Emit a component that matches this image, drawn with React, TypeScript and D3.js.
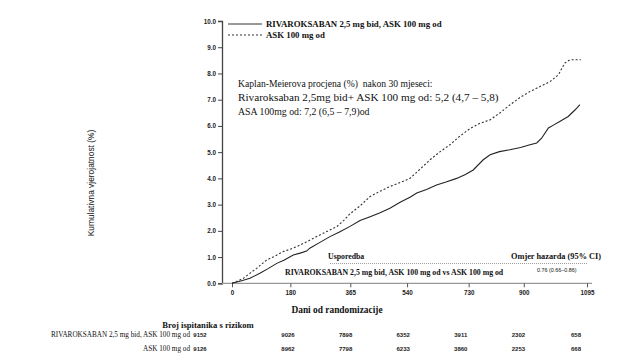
import { useEffect, useRef } from 'react'
import * as d3 from 'd3'

// Kaplan-Meier curves (days, cumulative %)
const rivaDays = [0, 30, 55, 86, 110, 138, 160, 189, 210, 230, 240, 270, 302, 330, 364, 395, 426, 455, 487, 520, 549, 570, 600, 631, 660, 693, 720, 744, 775, 796, 825, 857, 890, 919, 940, 955, 976, 990, 1011, 1037, 1053, 1065, 1073]
const rivaPct = [0, 0.1, 0.19, 0.38, 0.55, 0.76, 0.88, 1.08, 1.15, 1.23, 1.34, 1.55, 1.78, 1.95, 2.17, 2.39, 2.54, 2.68, 2.86, 3.1, 3.28, 3.44, 3.58, 3.75, 3.86, 4.0, 4.15, 4.32, 4.71, 4.9, 5.02, 5.09, 5.18, 5.28, 5.35, 5.53, 5.92, 6.02, 6.17, 6.36, 6.55, 6.7, 6.81]
const askDays = [0, 20, 35, 55, 76, 107, 130, 158, 180, 200, 230, 261, 290, 323, 345, 364, 395, 426, 455, 487, 520, 549, 580, 611, 640, 672, 700, 734, 765, 796, 827, 857, 890, 919, 950, 981, 1007, 1020, 1027, 1042, 1076]
const askPct = [0, 0.1, 0.19, 0.38, 0.57, 0.89, 1.02, 1.21, 1.3, 1.4, 1.58, 1.78, 1.96, 2.16, 2.4, 2.65, 2.95, 3.31, 3.5, 3.69, 3.85, 4.0, 4.35, 4.71, 5.0, 5.28, 5.58, 5.9, 6.1, 6.23, 6.5, 6.8, 7.1, 7.31, 7.5, 7.69, 7.95, 8.25, 8.4, 8.52, 8.52]

const xTicks = [0, 180, 365, 540, 730, 900, 1095]
const yTicks = [0, 1, 2, 3, 4, 5, 6, 7, 8, 9, 10]

const seriesNames = ['RIVAROKSABAN 2,5 mg bid, ASK 100 mg od', 'ASK 100 mg od']
const atRiskRiva = [9152, 9026, 7898, 6352, 3911, 2302, 658]
const atRiskAsk = [9126, 8962, 7798, 6233, 3860, 2253, 668]

const serif = '"Liberation Serif", "Times New Roman", serif'
const sans = '"Liberation Sans", Arial, sans-serif'

export default function App() {
  const svgRef = useRef<SVGSVGElement>(null)

  useEffect(() => {
    const svg = d3.select(svgRef.current)
    svg.selectAll('*').remove()

    const x = d3.scaleLinear([0, 1095], [232, 587])
    const y = d3.scaleLinear([0, 10], [283.3, 21])

    // y axis
    const yAxis = svg.append('g')
      .attr('transform', 'translate(222,0)')
      .call(d3.axisLeft(y).tickValues(yTicks).tickSize(4).tickPadding(2).tickFormat(d3.format('.1f')))
    yAxis.select('.domain').attr('stroke', '#444').attr('stroke-width', 1.3)
    yAxis.selectAll('line').attr('stroke', '#444')
    yAxis.selectAll('text')
      .attr('font-family', sans).attr('font-weight', 'bold').attr('font-size', 6.3).attr('fill', '#222')

    // x axis
    const xAxis = svg.append('g')
      .attr('transform', 'translate(0,283.3)')
      .call(d3.axisBottom(x).tickValues(xTicks).tickSize(4).tickPadding(3).tickFormat(d3.format('d')))
    xAxis.select('.domain').attr('d', 'M222,0H592').attr('stroke', '#999').attr('stroke-width', 1.3)
    xAxis.selectAll('line').attr('stroke', '#555')
    xAxis.selectAll('text')
      .attr('font-family', sans).attr('font-weight', 'bold').attr('font-size', 6.3).attr('fill', '#222')

    const line = d3.line<[number, number]>()
      .x(d => x(d[0]))
      .y(d => y(d[1]))

    svg.append('path')
      .datum(d3.zip(askDays, askPct) as [number, number][])
      .attr('d', line)
      .attr('fill', 'none')
      .attr('stroke', '#333')
      .attr('stroke-width', 1.1)
      .attr('stroke-dasharray', '2,2')

    svg.append('path')
      .datum(d3.zip(rivaDays, rivaPct) as [number, number][])
      .attr('d', line)
      .attr('fill', 'none')
      .attr('stroke', '#222')
      .attr('stroke-width', 1.1)

    // legend
    const legend = svg.append('g')
    legend.append('line').attr('x1', 228).attr('x2', 262).attr('y1', 24).attr('y2', 24)
      .attr('stroke', '#333').attr('stroke-width', 1)
    legend.append('line').attr('x1', 228).attr('x2', 262).attr('y1', 35).attr('y2', 35)
      .attr('stroke', '#333').attr('stroke-dasharray', '2,2')
    legend.selectAll('text')
      .data(seriesNames)
      .join('text')
      .attr('x', 266)
      .attr('y', (_, i) => 27 + i * 11)
      .attr('font-family', serif).attr('font-weight', 'bold').attr('font-size', 8.8).attr('fill', '#111')
      .text(d => d)

    // KM estimate note
    const note = [
      { t: 'Kaplan-Meierova procjena (%)  nakon 30 mjeseci:', s: 9.6 },
      { t: 'Rivaroksaban 2,5mg bid+ ASK 100 mg od: 5,2 (4,7 – 5,8)', s: 11.2 },
      { t: 'ASA 100mg od: 7,2 (6,5 – 7,9)od', s: 9.8 }
    ]
    svg.append('g').selectAll('text')
      .data(note)
      .join('text')
      .attr('x', 238)
      .attr('y', (_, i) => 87 + i * 14)
      .attr('font-family', serif).attr('font-size', d => d.s).attr('fill', '#111')
      .style('white-space', 'pre')
      .text(d => d.t)

    // hazard ratio inset
    const hr = svg.append('g').attr('font-family', serif).attr('fill', '#111')
    hr.append('text').attr('x', 328).attr('y', 259).attr('font-weight', 'bold').attr('font-size', 7.8)
      .text('Usporedba')
    hr.append('text').attr('x', 601).attr('y', 259).attr('text-anchor', 'end').attr('font-weight', 'bold').attr('font-size', 8.3)
      .text('Omjer hazarda (95% CI)')
    hr.append('line').attr('x1', 330).attr('x2', 588).attr('y1', 263.5).attr('y2', 263.5)
      .attr('stroke', '#888').attr('stroke-width', 0.8).attr('stroke-dasharray', '1,1')
    hr.append('text').attr('x', 285).attr('y', 275).attr('font-weight', 'bold').attr('font-size', 7.8)
      .text(`${seriesNames[0]} vs ${seriesNames[1]}`)
    hr.append('text').attr('x', 537).attr('y', 272).attr('font-family', sans).attr('font-size', 5.4)
      .text('0.76 (0.66–0.86)')

    // x title
    svg.append('text').attr('x', 337).attr('y', 313).attr('text-anchor', 'middle')
      .attr('font-family', serif).attr('font-weight', 'bold').attr('font-size', 9.4).attr('fill', '#111')
      .text('Dani od randomizacije')

    // y title
    svg.append('text')
      .attr('transform', 'translate(94,183) rotate(-90)')
      .attr('text-anchor', 'middle')
      .attr('font-family', sans).attr('font-size', 8.4).attr('fill', '#111')
      .text('Kumulativna vjerojatnost (%)')

    // number at risk table
    svg.append('text').attr('x', 208).attr('y', 328).attr('text-anchor', 'middle')
      .attr('font-family', serif).attr('font-weight', 'bold').attr('font-size', 8.6).attr('fill', '#111')
      .text('Broj ispitanika s rizikom')

    const colX = d3.scalePoint<number>().domain(xTicks.slice(1)).range([288, 576])
    const rows = [atRiskRiva, atRiskAsk]
    rows.forEach((vals, r) => {
      const yy = 337 + r * 14
      svg.append('text').attr('x', 190).attr('y', yy).attr('text-anchor', 'end')
        .attr('font-family', serif).attr('font-size', 7.2).attr('fill', '#111')
        .text(seriesNames[r])
      svg.append('g').selectAll('text')
        .data(vals)
        .join('text')
        .attr('x', (_, i) => i === 0 ? 200 : colX(xTicks[i])!)
        .attr('y', yy)
        .attr('text-anchor', 'middle')
        .attr('font-family', sans).attr('font-weight', 'bold').attr('font-size', 6).attr('fill', '#222')
        .text(d => d)
    })
  }, [])

  return (
    <svg
      ref={svgRef}
      width={619}
      height={360}
      style={{ position: 'absolute', top: 0, left: 0, background: '#fff' }}
    />
  )
}
